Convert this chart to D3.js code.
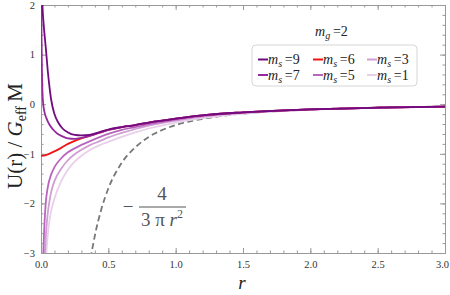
<!DOCTYPE html>
<html>
<head>
<meta charset="utf-8">
<script src="https://cdn.jsdelivr.net/npm/d3@7"></script>
<style>
  body { margin: 0; background: #fff; }
  svg { display: block; }
</style>
</head>
<body>
<div id="chart"></div>
<script>
// Curves: [r, U(r)/G_eff M]
const ms9 = [[0.008, 2.6], [0.011, 2.0], [0.02, 1.6], [0.03, 1.3], [0.04, 1.0], [0.05, 0.68], [0.06, 0.42], [0.075, 0.1],
  [0.1, -0.2], [0.13, -0.38], [0.16, -0.49], [0.2, -0.57], [0.25, -0.62], [0.3, -0.63], [0.36, -0.62], [0.44, -0.56],
  [0.5, -0.51], [0.6, -0.46], [0.7, -0.42], [0.8, -0.37], [1.0, -0.29], [1.25, -0.21], [1.5, -0.165], [2.0, -0.105],
  [2.5, -0.07], [3.0, -0.048]];
const ms7 = [[0.002, 2.4], [0.004, 1.4], [0.007, 0.7], [0.01, 0.3], [0.015, 0.05], [0.025, -0.15], [0.04, -0.28],
  [0.06, -0.4], [0.09, -0.51], [0.12, -0.59], [0.16, -0.65], [0.2, -0.69], [0.25, -0.7], [0.3, -0.68], [0.36, -0.64],
  [0.44, -0.57], [0.5, -0.52], [0.6, -0.46], [0.7, -0.42], [0.8, -0.37], [1.0, -0.29], [1.25, -0.21], [1.5, -0.165],
  [2.0, -0.105], [2.5, -0.07], [3.0, -0.048]];
const ms6 = [[0.0, -1.04], [0.03, -1.03], [0.06, -1.0], [0.1, -0.95], [0.15, -0.88], [0.2, -0.8], [0.25, -0.74],
  [0.3, -0.69], [0.36, -0.64], [0.44, -0.57], [0.5, -0.52], [0.6, -0.46], [0.7, -0.42], [0.8, -0.37], [1.0, -0.29],
  [1.25, -0.21], [1.5, -0.165], [2.0, -0.105], [2.5, -0.07], [3.0, -0.048]];
const ms5 = [[0.012, -3.3], [0.017, -3.0], [0.025, -2.45], [0.035, -2.0], [0.05, -1.68], [0.075, -1.42], [0.1, -1.27],
  [0.15, -1.09], [0.2, -0.97], [0.25, -0.89], [0.3, -0.82], [0.36, -0.75], [0.44, -0.66], [0.5, -0.6], [0.6, -0.52],
  [0.7, -0.46], [0.8, -0.4], [1.0, -0.31], [1.25, -0.22], [1.5, -0.17], [2.0, -0.105], [2.5, -0.07], [3.0, -0.048]];
const ms3 = [[0.025, -3.3], [0.03, -2.95], [0.04, -2.5], [0.05, -2.2], [0.065, -1.92], [0.08, -1.72], [0.1, -1.55],
  [0.15, -1.3], [0.2, -1.13], [0.25, -1.01], [0.3, -0.92], [0.36, -0.83], [0.44, -0.74], [0.5, -0.67], [0.6, -0.58],
  [0.7, -0.5], [0.8, -0.43], [1.0, -0.33], [1.25, -0.235], [1.5, -0.175], [2.0, -0.108], [2.5, -0.072], [3.0, -0.049]];
const ms1 = [[0.035, -3.3], [0.04, -3.0], [0.05, -2.65], [0.065, -2.3], [0.08, -2.1], [0.1, -1.9], [0.15, -1.55],
  [0.2, -1.32], [0.25, -1.16], [0.3, -1.04], [0.36, -0.93], [0.44, -0.82], [0.5, -0.76], [0.6, -0.66], [0.7, -0.57],
  [0.8, -0.49], [1.0, -0.37], [1.25, -0.26], [1.5, -0.188], [2.0, -0.11], [2.5, -0.073], [3.0, -0.05]];
// dashed reference curve -4/(3 pi r^2)
const newtonian = [[0.36, -3.3], [0.37, -3.1], [0.4, -2.65], [0.45, -2.1], [0.5, -1.7], [0.6, -1.18], [0.7, -0.87],
  [0.8, -0.66], [0.9, -0.52], [1.0, -0.42], [1.2, -0.295], [1.4, -0.217], [1.6, -0.166], [1.8, -0.131], [2.0, -0.106],
  [2.5, -0.068], [3.0, -0.047]];

const msValues = [9, 7, 6, 5, 3, 1];
const msCurves = [ms9, ms7, ms6, ms5, ms3, ms1];
const msColors = ["#720a80", "#952a9c", "#f01414", "#b866bd", "#cf9ed3", "#e8d0ea"];
const legendOrder = [9, 6, 3, 7, 5, 1];

const xTicks = [0, 0.5, 1, 1.5, 2, 2.5, 3];
const yTicks = [-3, -2, -1, 0, 1, 2];

const width = 450;
const height = 295;
const margin = { top: 5, right: 5, bottom: 42, left: 41 };
const SERIF = "Liberation Serif, Times New Roman, serif";

const svg = d3.select("#chart").append("svg")
  .attr("width", width)
  .attr("height", height)
  .attr("viewBox", `0 0 ${width} ${height}`)
  .attr("font-family", SERIF);

const x = d3.scaleLinear().domain([0, 3]).range([margin.left, width - margin.right]);
const y = d3.scaleLinear().domain([-3, 2]).range([height - margin.bottom, margin.top]);

svg.append("clipPath").attr("id", "plot-clip")
  .append("rect")
  .attr("x", x(0)).attr("y", y(2))
  .attr("width", x(3) - x(0)).attr("height", y(-3) - y(2));

// axes: ticks pointing inward on all four sides
const minorX = d3.range(0, 3.001, 0.1);
const minorY = d3.range(-3, 2.001, 0.2);
const axisColor = "#999";

function styleAxis(g) {
  g.attr("font-family", SERIF).attr("font-size", 10.5);
  g.select(".domain").attr("stroke", axisColor);
  g.selectAll(".tick line").attr("stroke", axisColor);
  g.selectAll(".tick text").attr("fill", "#333");
}

svg.append("g").attr("transform", `translate(0,${y(-3)})`)
  .call(d3.axisBottom(x).tickValues(minorX).tickSize(-2.5).tickSizeOuter(0).tickFormat(""))
  .call(styleAxis);
svg.append("g").attr("transform", `translate(0,${y(-3)})`)
  .call(d3.axisBottom(x).tickValues(xTicks).tickSize(-5).tickSizeOuter(0).tickPadding(8).tickFormat(d3.format(".1f")))
  .call(styleAxis)
  .call((g) => g.selectAll(".tick:last-of-type text").attr("dx", -3));
svg.append("g").attr("transform", `translate(0,${y(2)})`)
  .call(d3.axisTop(x).tickValues(minorX).tickSize(-2.5).tickSizeOuter(0).tickFormat(""))
  .call(styleAxis);
svg.append("g").attr("transform", `translate(0,${y(2)})`)
  .call(d3.axisTop(x).tickValues(xTicks).tickSize(-5).tickSizeOuter(0).tickFormat(""))
  .call(styleAxis);

svg.append("g").attr("transform", `translate(${x(0)},0)`)
  .call(d3.axisLeft(y).tickValues(minorY).tickSize(-2.5).tickSizeOuter(0).tickFormat(""))
  .call(styleAxis);
svg.append("g").attr("transform", `translate(${x(0)},0)`)
  .call(d3.axisLeft(y).tickValues(yTicks).tickSize(-5).tickSizeOuter(0).tickPadding(6)
    .tickFormat((d) => (d < 0 ? "\u2212" + Math.abs(d) : d)))
  .call(styleAxis);
svg.append("g").attr("transform", `translate(${x(3)},0)`)
  .call(d3.axisRight(y).tickValues(minorY).tickSize(-2.5).tickSizeOuter(0).tickFormat(""))
  .call(styleAxis);
svg.append("g").attr("transform", `translate(${x(3)},0)`)
  .call(d3.axisRight(y).tickValues(yTicks).tickSize(-5).tickSizeOuter(0).tickFormat(""))
  .call(styleAxis);

// curves
const line = d3.line()
  .x((d) => x(d[0]))
  .y((d) => y(d[1]))
  .curve(d3.curveMonotoneX);

const gCurves = svg.append("g").attr("clip-path", "url(#plot-clip)");

gCurves.append("path")
  .datum(newtonian)
  .attr("d", line)
  .attr("fill", "none")
  .attr("stroke", "#777")
  .attr("stroke-width", 1.8)
  .attr("stroke-dasharray", "6,3.5");

// lightest first so the dark ones stay on top
d3.range(msCurves.length - 1, -1, -1).forEach((i) => {
  gCurves.append("path")
    .datum(msCurves[i])
    .attr("d", line)
    .attr("fill", "none")
    .attr("stroke", msColors[i])
    .attr("stroke-width", 1.8);
});

// axis titles
const yTitle = svg.append("text")
  .attr("transform", "translate(22,136) rotate(-90)")
  .attr("text-anchor", "middle")
  .attr("font-size", 21)
  .attr("fill", "#222");
yTitle.append("tspan").text("U(r) / ");
yTitle.append("tspan").attr("font-style", "italic").text("G");
yTitle.append("tspan").attr("font-size", 14).attr("dy", 4).text("eff");
yTitle.append("tspan").attr("dy", -4).text("\u2009M");

svg.append("text")
  .attr("x", x(1.5) - 1)
  .attr("y", 289)
  .attr("text-anchor", "middle")
  .attr("font-style", "italic")
  .attr("font-size", 19)
  .attr("fill", "#222")
  .text("r");

// formula label for the dashed curve
const fx = 162;
const gFormula = svg.append("g").attr("fill", "#555").attr("font-size", 19);
gFormula.append("text")
  .attr("x", 128).attr("y", 213)
  .attr("text-anchor", "middle")
  .text("\u2212");
gFormula.append("text")
  .attr("x", fx).attr("y", 200)
  .attr("text-anchor", "middle")
  .text("4");
gFormula.append("line")
  .attr("x1", 139).attr("x2", 186)
  .attr("y1", 207).attr("y2", 207)
  .attr("stroke", "#555")
  .attr("stroke-width", 1);
const denom = gFormula.append("text")
  .attr("x", fx).attr("y", 226)
  .attr("text-anchor", "middle");
denom.append("tspan").text("3 \u03C0 ");
denom.append("tspan").attr("font-style", "italic").text("r");
denom.append("tspan").attr("font-size", 12).attr("dy", -8).text("2");

// legend
svg.append("text")
  .attr("x", 315).attr("y", 36)
  .attr("font-size", 14)
  .attr("fill", "#222")
  .call((t) => {
    t.append("tspan").attr("font-style", "italic").text("m");
    t.append("tspan").attr("font-style", "italic").attr("font-size", 10).attr("dy", 3).text("g");
    t.append("tspan").attr("dy", -3).text("\u2009=2");
  });

svg.append("rect")
  .attr("x", 252).attr("y", 45)
  .attr("width", 165).attr("height", 41)
  .attr("rx", 4)
  .attr("fill", "#fff")
  .attr("stroke", "#ccc")
  .attr("stroke-width", 0.8);

const legendCols = [258, 313, 367];
const legendRows = [59.5, 75];
const legendItems = svg.append("g")
  .selectAll("g")
  .data(legendOrder)
  .join("g")
  .attr("transform", (d, i) => `translate(${legendCols[i % 3]},${legendRows[Math.floor(i / 3)]})`);

legendItems.append("line")
  .attr("x1", 0).attr("x2", 10)
  .attr("stroke", (d) => msColors[msValues.indexOf(d)])
  .attr("stroke-width", 2);

legendItems.append("text")
  .attr("x", 10).attr("y", 4.5)
  .attr("font-size", 14)
  .attr("fill", "#222")
  .call((t) => {
    t.append("tspan").attr("font-style", "italic").text("m");
    t.append("tspan").attr("font-style", "italic").attr("font-size", 10).attr("dy", 3).text("s");
    t.append("tspan").attr("dy", -3).text((d) => "\u2009=" + d);
  });
</script>
</body>
</html>
